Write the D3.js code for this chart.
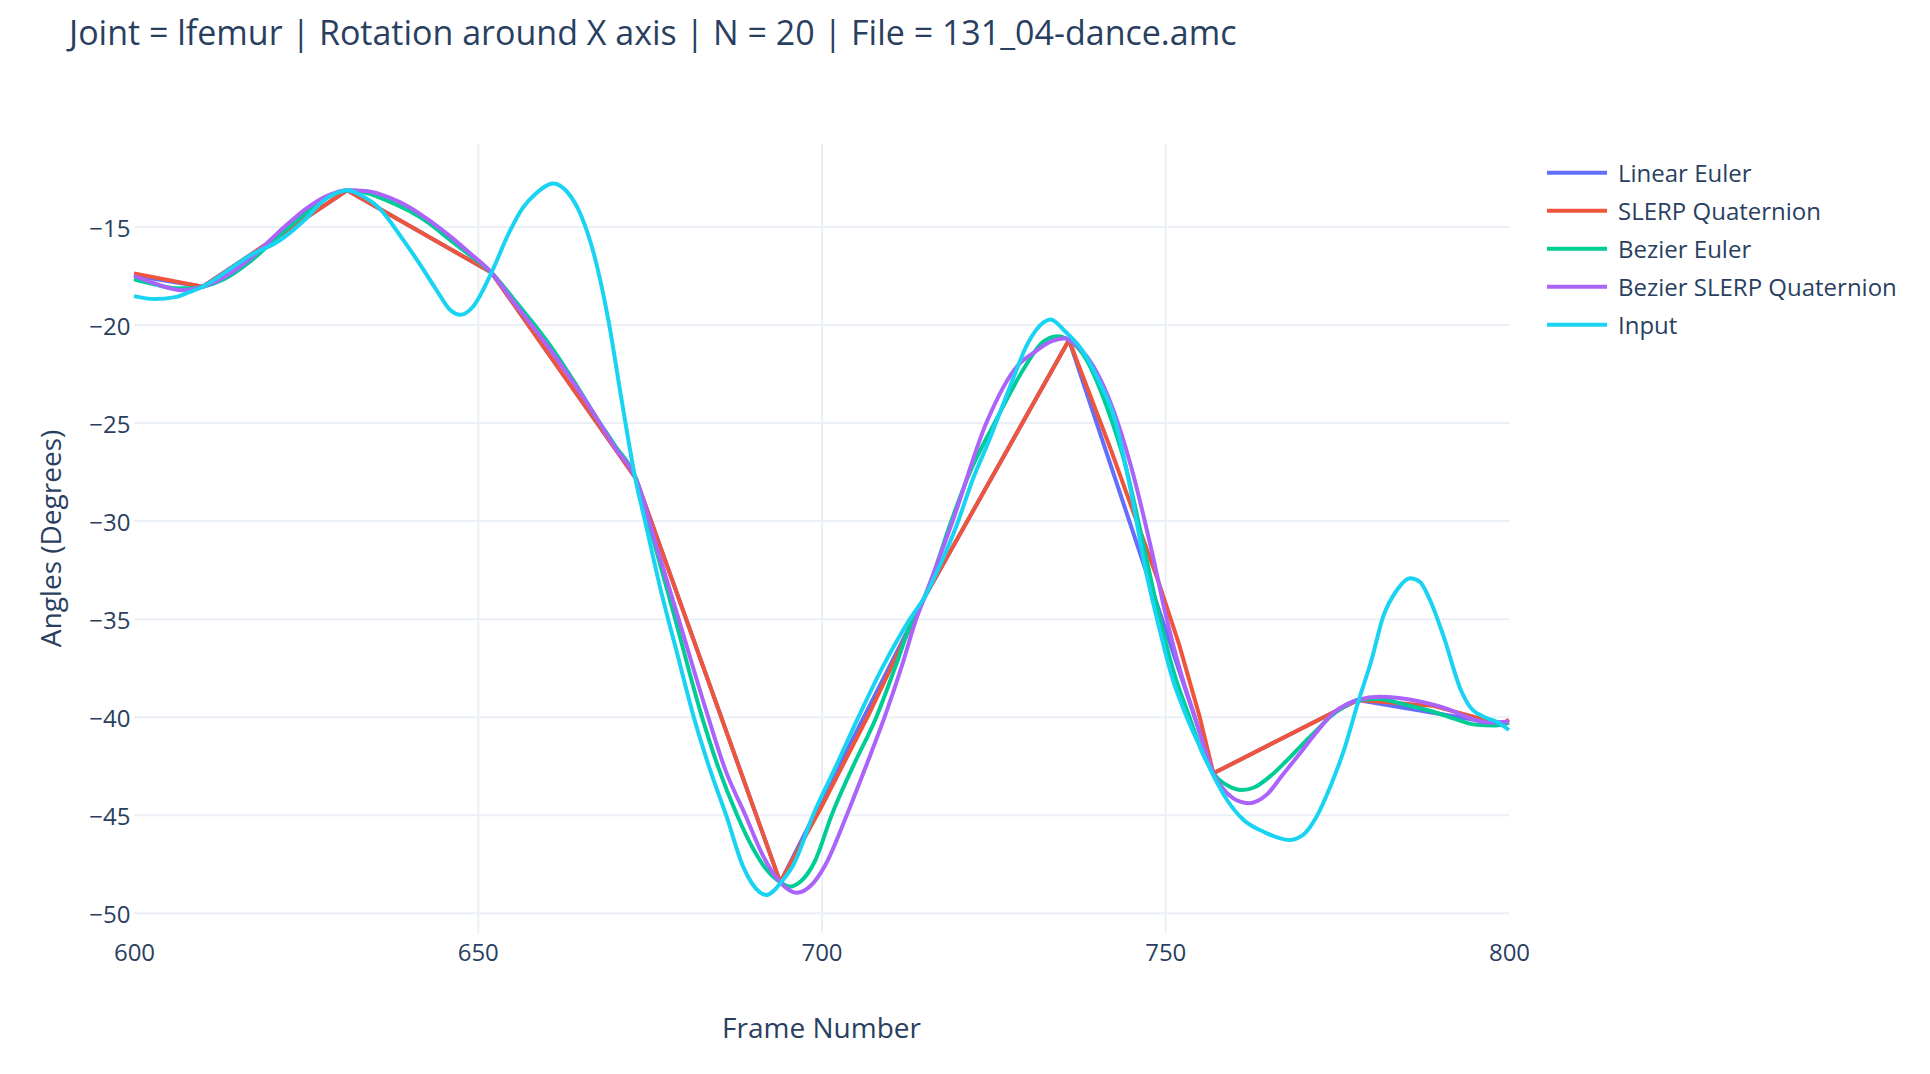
<!DOCTYPE html>
<html>
<head>
<meta charset="utf-8">
<script src="https://cdn.jsdelivr.net/npm/d3@7"></script>
<style>
  body { margin: 0; background: #fff; }
  svg text { font-family: "Open Sans", verdana, arial, sans-serif; fill: #2a3f5f; }
</style>
</head>
<body>
<div id="chart"></div>
<script>
const chartTitle = 'Joint = lfemur | Rotation around X axis | N = 20 | File = 131_04-dance.amc';
const xTitle = 'Frame Number';
const yTitle = 'Angles (Degrees)';

const xTicks = [600, 650, 700, 750, 800];
const yTicks = [-50, -45, -40, -35, -30, -25, -20, -15];

const seriesNames = ['Linear Euler', 'SLERP Quaternion', 'Bezier Euler', 'Bezier SLERP Quaternion', 'Input'];
const seriesColors = ['#636efa', '#EF553B', '#00cc96', '#ab63fa', '#19d3f3'];

// keyframes every 21 frames, straight segments between them
const linearEulerFrames = [600, 610, 631, 652, 673, 694, 715, 736, 757, 778, 799, 800];
const linearEulerValues = [-17.5, -18.07, -13.15, -17.35, -27.85, -48.45, -33.9, -20.79, -42.89, -39.15, -40.4, -40.3];

const slerpFrames = [600, 610, 631, 652, 673, 694, 700, 707, 715, 736, 742, 748.8, 752, 755, 757, 778, 789, 799, 800];
const slerpValues = [-17.39, -18.07, -13.15, -17.35, -27.85, -48.45, -44.6, -39.8, -33.9, -20.79, -26.3, -32.9, -36.3, -40.0, -42.89, -39.15, -39.45, -40.4, -40.15];

const bezierEulerFrames = [
  600, 603, 606, 608, 610, 613, 617, 621, 625, 628, 631, 634, 637, 640, 643, 646, 649, 652,
  655, 658, 661, 664, 667, 670, 673, 675, 678.7, 682.6, 685, 687.7, 690, 692, 694, 695.4,
  697, 699, 701.5, 704.5, 708, 710.7, 713.3, 715, 718.9, 721.5, 725.2, 729.6, 732, 734.3,
  736, 738, 741.5, 744.3, 746.8, 749.2, 751.3, 753.5, 755.5, 757, 759, 761.2, 763, 765.2,
  767.5, 770.1, 772, 774, 776, 778, 781, 785, 789, 792, 795, 798, 800,
];
const bezierEulerValues = [
  -17.69, -17.95, -18.15, -18.15, -18.07, -17.7, -16.75, -15.5, -14.3, -13.55, -13.15, -13.3, -13.7, -14.2, -14.85, -15.7, -16.5, -17.35,
  -18.6, -19.9, -21.3, -22.9, -24.6, -26.2, -27.85, -30.3, -35.0, -40.0, -42.6, -45.0, -46.7, -47.8, -48.45, -48.67,
  -48.4, -47.4, -45.0, -42.6, -40.0, -37.5, -35.0, -33.9, -30.0, -27.6, -25.0, -22.15, -20.95, -20.59,
  -20.79, -21.5, -24.2, -27.3, -31.2, -35.0, -37.8, -40.0, -41.9, -42.89, -43.5, -43.74, -43.6, -43.06,
  -42.3, -41.36, -40.7, -40.0, -39.5, -39.15, -39.1, -39.4, -39.75, -40.1, -40.4, -40.45, -40.3,
];

const bezierSlerpFrames = [
  600, 603, 607, 610, 613, 617, 621, 625, 628, 631, 634, 637, 640, 643, 646, 649, 652,
  655, 658, 661, 664, 667, 670, 673, 676, 679.2, 683.5, 686, 688.9, 691.5, 694, 696.4,
  698.5, 700.5, 703.7, 706.5, 709.2, 711.7, 713.8, 715, 719, 724, 728.4, 731, 733.5, 735.5,
  736, 739.5, 742.5, 745, 748, 750.2, 752.3, 754.3, 755.8, 757, 759, 760.9, 762.1, 764.7,
  767, 769.6, 772, 774.4, 776.5, 778, 781.2, 784, 787.2, 791, 794.4, 797, 800,
];
const bezierSlerpValues = [
  -17.51, -17.9, -18.25, -18.07, -17.6, -16.6, -15.3, -14.1, -13.45, -13.15, -13.2, -13.5, -14.0, -14.7, -15.5, -16.4, -17.35,
  -18.75, -20.1, -21.5, -23.0, -24.6, -26.3, -27.85, -31.3, -35.0, -40.0, -42.7, -45.0, -47.1, -48.45, -48.98,
  -48.6, -47.6, -45.0, -42.5, -40.0, -37.4, -35.0, -33.9, -30.1, -25.0, -22.15, -21.4, -20.85, -20.7,
  -20.79, -22.1, -24.4, -27.2, -31.5, -35.0, -37.8, -40.0, -41.7, -42.89, -43.9, -44.34, -44.42, -44.0,
  -43.0, -41.87, -40.8, -39.83, -39.35, -39.15, -38.98, -39.05, -39.24, -39.6, -40.09, -40.3, -40.26,
];

const inputFrames = [
  600, 603, 606, 608, 610, 613, 617, 621, 625, 627.5, 630, 631, 633, 635.7, 639, 641.5, 644, 646,
  647.5, 649.3, 652, 654.5, 656.5, 658.5, 661, 663, 665, 667, 669, 671, 673, 674.3, 676.5, 679,
  681.4, 683.8, 686.2, 688.6, 691, 692, 693, 694, 696, 698.8, 702, 705.4, 709, 712.9, 715, 717.2,
  719.6, 722, 724.4, 727.6, 730, 732.4, 733.3, 735.5, 737.9, 740.3, 742.7, 745, 747.2, 749, 751,
  753.1, 755, 757, 759, 761.4, 764.3, 768, 770, 772, 774, 776, 778, 780, 781.7, 783.7, 785.6,
  787, 788.5, 790.5, 793, 794.3, 796.3, 798.2, 800,
];
const inputValues = [
  -18.55, -18.7, -18.6, -18.35, -18.07, -17.4, -16.45, -15.75, -14.6, -13.7, -13.22, -13.15, -13.4, -14.07, -15.6, -16.88, -18.24, -19.26,
  -19.5, -19.09, -17.35, -15.35, -14.07, -13.3, -12.8, -13.23, -14.41, -16.54, -19.77, -24.0, -28.0, -29.97, -33.37, -36.77,
  -40.0, -42.72, -45.1, -47.65, -48.95, -49.1, -48.9, -48.5, -47.5, -45.0, -42.6, -40.0, -37.4, -35.0, -33.9, -32.3,
  -30.3, -27.9, -25.89, -23.0, -20.96, -19.86, -19.74, -20.37, -21.3, -22.83, -24.87, -28.5, -32.6, -35.3, -38.0,
  -40.0, -41.5, -43.0, -44.25, -45.27, -45.87, -46.29, -46.04, -45.1, -43.57, -41.7, -39.32, -37.11, -34.9, -33.54, -32.94,
  -33.11, -34.05, -35.92, -38.64, -39.49, -40.0, -40.26, -40.68,
];

class AngleLineChart {
  constructor(element, options) {
    const defaults = {
      width: 1930,
      height: 1074,
      margin: {
        top: 144,
        right: 421,
        bottom: 141,
        left: 134,
      },
      xDomain: [600, 800],
      yDomain: [-51.035, -10.79],
    };

    this.element = element;
    Object.assign(this, defaults, options);

    this.init();
  }

  dimensions() {
    const { margin, width, height } = this;

    return [
      width - margin.left - margin.right,
      height - margin.top - margin.bottom,
    ];
  }

  init() {
    const { element, width, height, margin } = this;
    const [innerWidth, innerHeight] = this.dimensions();

    this.root = d3.select(element)
      .append('svg')
      .attr('width', width)
      .attr('height', height);

    this.svg = this.root.append('g')
      .attr('transform', `translate(${margin.left}, ${margin.top})`);

    this.svg.append('clipPath')
      .attr('id', 'plot-clip')
      .append('rect')
      .attr('x', -2)
      .attr('y', 0)
      .attr('width', innerWidth + 4)
      .attr('height', innerHeight);

    this.scaleX = d3.scaleLinear()
      .domain(this.xDomain)
      .range([0, innerWidth]);

    this.scaleY = d3.scaleLinear()
      .domain(this.yDomain)
      .range([innerHeight, 0]);
  }

  renderAxis() {
    const { svg, scaleX, scaleY } = this;
    const [innerWidth, innerHeight] = this.dimensions();

    const yAxis = svg.append('g')
      .attr('class', 'y-axis')
      .call(d3.axisLeft(scaleY)
        .tickValues(yTicks)
        .tickSize(-innerWidth)
        .tickPadding(3.5));

    const xAxis = svg.append('g')
      .attr('class', 'x-axis')
      .attr('transform', `translate(0, ${innerHeight})`)
      .call(d3.axisBottom(scaleX)
        .tickValues(xTicks)
        .tickSize(-innerHeight)
        .tickPadding(10.7));

    [xAxis, yAxis].forEach((axis) => {
      axis.select('.domain').remove();
      axis.selectAll('.tick line')
        .attr('stroke', '#EBF0F8')
        .attr('stroke-width', 2);
      axis.selectAll('.tick text')
        .attr('font-size', 24)
        .attr('fill', '#2a3f5f');
    });

    yAxis.selectAll('.tick text').attr('dy', '0.4em');
    xAxis.selectAll('.tick text').attr('dy', '0.71em');

    // plotly leaves no grid line on the edges of the x range
    xAxis.selectAll('.tick')
      .filter(d => d === this.xDomain[0] || d === this.xDomain[1])
      .select('line')
      .remove();
  }

  renderLines(series) {
    const { svg, scaleX, scaleY } = this;

    const layer = svg.append('g')
      .attr('clip-path', 'url(#plot-clip)');

    series.forEach((s) => {
      const line = d3.line()
        .curve(s.smooth ? d3.curveMonotoneX : d3.curveLinear)
        .x(d => scaleX(d[0]))
        .y(d => scaleY(d[1]));

      layer.append('path')
        .datum(d3.zip(s.frames, s.values))
        .attr('fill', 'none')
        .attr('stroke', s.color)
        .attr('stroke-width', 4)
        .attr('stroke-linejoin', 'round')
        .attr('d', line);
    });
  }

  renderLegend(series) {
    const legend = this.root.append('g')
      .attr('transform', 'translate(1547, 172.7)');

    const item = legend.selectAll('g')
      .data(series)
      .join('g')
      .attr('transform', (d, i) => `translate(0, ${i * 38})`);

    item.append('line')
      .attr('x1', 0)
      .attr('x2', 60)
      .attr('stroke', d => d.color)
      .attr('stroke-width', 4);

    item.append('text')
      .attr('x', 71)
      .attr('y', 9.5)
      .attr('font-size', 24)
      .text(d => d.name);
  }

  renderTitles() {
    const { root, margin } = this;
    const [innerWidth, innerHeight] = this.dimensions();

    root.append('text')
      .attr('x', 69)
      .attr('y', 45)
      .attr('font-size', 34)
      .text(chartTitle);

    root.append('text')
      .attr('x', margin.left + innerWidth / 2)
      .attr('y', 1038)
      .attr('text-anchor', 'middle')
      .attr('font-size', 28)
      .text(xTitle);

    root.append('text')
      .attr('transform', `translate(61, ${margin.top + innerHeight / 2}) rotate(-90)`)
      .attr('text-anchor', 'middle')
      .attr('font-size', 28)
      .text(yTitle);
  }

  render(series) {
    this.renderAxis();
    this.renderLines(series);
    this.renderLegend(series);
    this.renderTitles();
  }
}

const series = [
  { frames: linearEulerFrames, values: linearEulerValues, smooth: false },
  { frames: slerpFrames, values: slerpValues, smooth: false },
  { frames: bezierEulerFrames, values: bezierEulerValues, smooth: true },
  { frames: bezierSlerpFrames, values: bezierSlerpValues, smooth: true },
  { frames: inputFrames, values: inputValues, smooth: true },
].map((s, i) => ({ ...s, name: seriesNames[i], color: seriesColors[i] }));

const chart = new AngleLineChart(document.getElementById('chart'));
chart.render(series);
</script>
</body>
</html>
